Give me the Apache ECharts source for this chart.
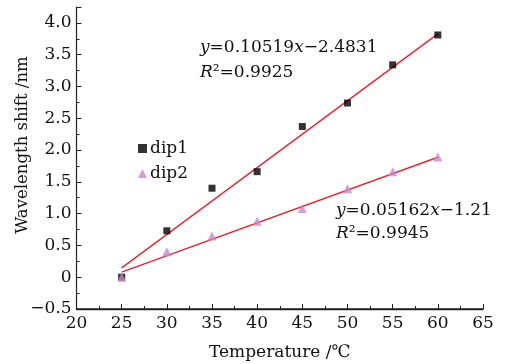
<!DOCTYPE html>
<html>
<head>
<meta charset="utf-8">
<script src="https://cdn.jsdelivr.net/npm/echarts@6/dist/echarts.min.js"></script>
<style>html,body{margin:0;padding:0;background:#fff;}#c{width:509px;height:364px;}</style>
</head>
<body>
<div id="c"></div>
<script>
var temps = [25, 30, 35, 40, 45, 50, 55, 60];
var dip1 = [0, 0.73, 1.40, 1.66, 2.37, 2.74, 3.34, 3.81];
var dip2 = [0, 0.40, 0.65, 0.88, 1.08, 1.39, 1.66, 1.89];
var fit1X = [25, 60];
var fit1Y = [0.147, 3.828];
var fit2X = [25, 60];
var fit2Y = [0.081, 1.887];
var eq1 = ['{i|y}=0.10519{i|x}\u22122.4831', '{i|R}\u00b2=0.9925'];
var eq2 = ['{i|y}=0.05162{i|x}\u22121.21', '{i|R}\u00b2=0.9945'];

function pairs(xs, ys) { return xs.map(function (x, i) { return [x, ys[i]]; }); }

var FONT = 'DejaVu Serif';
var axisColor = '#222';
var chart = echarts.init(document.getElementById('c'));
var rich = { i: { fontStyle: 'italic', fontFamily: FONT, fontSize: 17, color: '#111' } };

chart.setOption({
  animation: false,
  backgroundColor: '#fff',
  grid: { left: 76.5, right: 26, top: 7, bottom: 55, containLabel: false, outerBoundsMode: 'none' },
  legend: {
    data: ['dip1', 'dip2'],
    orient: 'vertical',
    left: 133, top: 135,
    itemWidth: 9, itemHeight: 9, itemGap: 8,
    textStyle: { fontFamily: FONT, fontSize: 17, color: '#111', padding: [0, 0, 0, -2] }
  },
  xAxis: {
    type: 'value', min: 20, max: 65, interval: 5, position: 'bottom',
    name: 'Temperature /\u2103', nameLocation: 'middle', nameGap: 35,
    nameTextStyle: { fontFamily: FONT, fontSize: 17, color: '#111' },
    axisLine: { show: true, onZero: true, onZeroAxisIndex: 1, lineStyle: { color: axisColor, width: 1.3 } },
    axisTick: { show: true, inside: true, length: 5, lineStyle: { color: axisColor, width: 1 } },
    minorTick: { show: true, splitNumber: 2, length: 3, lineStyle: { color: axisColor, width: 1 } },
    axisLabel: { fontFamily: FONT, fontSize: 17, color: '#111', margin: 6 },
    splitLine: { show: false }
  },
  yAxis: [{
    type: 'value', min: -0.5, max: 4.25, interval: 0.5, position: 'left',
    axisLine: { show: true, onZero: false, lineStyle: { color: axisColor, width: 1.2 } },
    axisTick: { show: true, inside: true, length: 5, lineStyle: { color: axisColor } },
    minorTick: { show: true, splitNumber: 2, length: 3, lineStyle: { color: axisColor } },
    axisLabel: {
      fontFamily: FONT, fontSize: 17, color: '#111', margin: 5, showMaxLabel: false,
      formatter: function (v) {
        if (Math.abs(v) < 1e-9) return '0';
        if (Math.abs(v * 2 - Math.round(v * 2)) > 1e-6) return '';
        var s = v.toFixed(1);
        return s.replace('-', '\u2212');
      }
    },
    splitLine: { show: false }
  }, {
    type: 'value', min: 0, max: 1, position: 'right', show: false,
    axisLine: { show: false }, axisTick: { show: false }, axisLabel: { show: false }, splitLine: { show: false }
  }],
  graphic: [
    { type: 'text', left: 200, top: 39, style: { text: eq1[0], rich: rich, font: '17px ' + FONT, fill: '#111' } },
    { type: 'text', left: 200, top: 64, style: { text: eq1[1], rich: rich, font: '17px ' + FONT, fill: '#111' } },
    { type: 'text', left: 336, top: 202, style: { text: eq2[0], rich: rich, font: '17px ' + FONT, fill: '#111' } },
    { type: 'text', left: 336, top: 225, style: { text: eq2[1], rich: rich, font: '17px ' + FONT, fill: '#111' } },
    { type: 'text', x: 23, y: 145, rotation: Math.PI / 2,
      style: { text: 'Wavelength shift /nm', font: '16.5px ' + FONT, fill: '#111', align: 'center', verticalAlign: 'middle' } }
  ],
  series: [
    { name: 'fit1', type: 'line', data: pairs(fit1X, fit1Y), symbol: 'none', z: 1,
      lineStyle: { color: '#e3262e', width: 1.4 } },
    { name: 'fit2', type: 'line', data: pairs(fit2X, fit2Y), symbol: 'none', z: 1,
      lineStyle: { color: '#e3262e', width: 1.4 } },
    { name: 'dip1', type: 'scatter', data: pairs(temps, dip1), symbol: 'rect', symbolSize: 7, z: 3,
      itemStyle: { color: '#000' } },
    { name: 'dip2', type: 'scatter', data: pairs(temps, dip2), symbol: 'triangle', symbolSize: 9, z: 4,
      itemStyle: { color: '#cc85cc' } }
  ]
});

// Fail-safe baseline drawn along the x axis through the chart's own scales
var p0 = chart.convertToPixel({ gridIndex: 0 }, [20, -0.5]);
var p1 = chart.convertToPixel({ gridIndex: 0 }, [65, -0.5]);
if (p0 && p1) {
  chart.setOption({
    graphic: [{
      type: 'line', id: 'xbase', z: 50,
      shape: { x1: p0[0], y1: p0[1], x2: p1[0], y2: p1[1] },
      style: { stroke: axisColor, lineWidth: 1.3 }
    }]
  });
}
</script>
</body>
</html>
